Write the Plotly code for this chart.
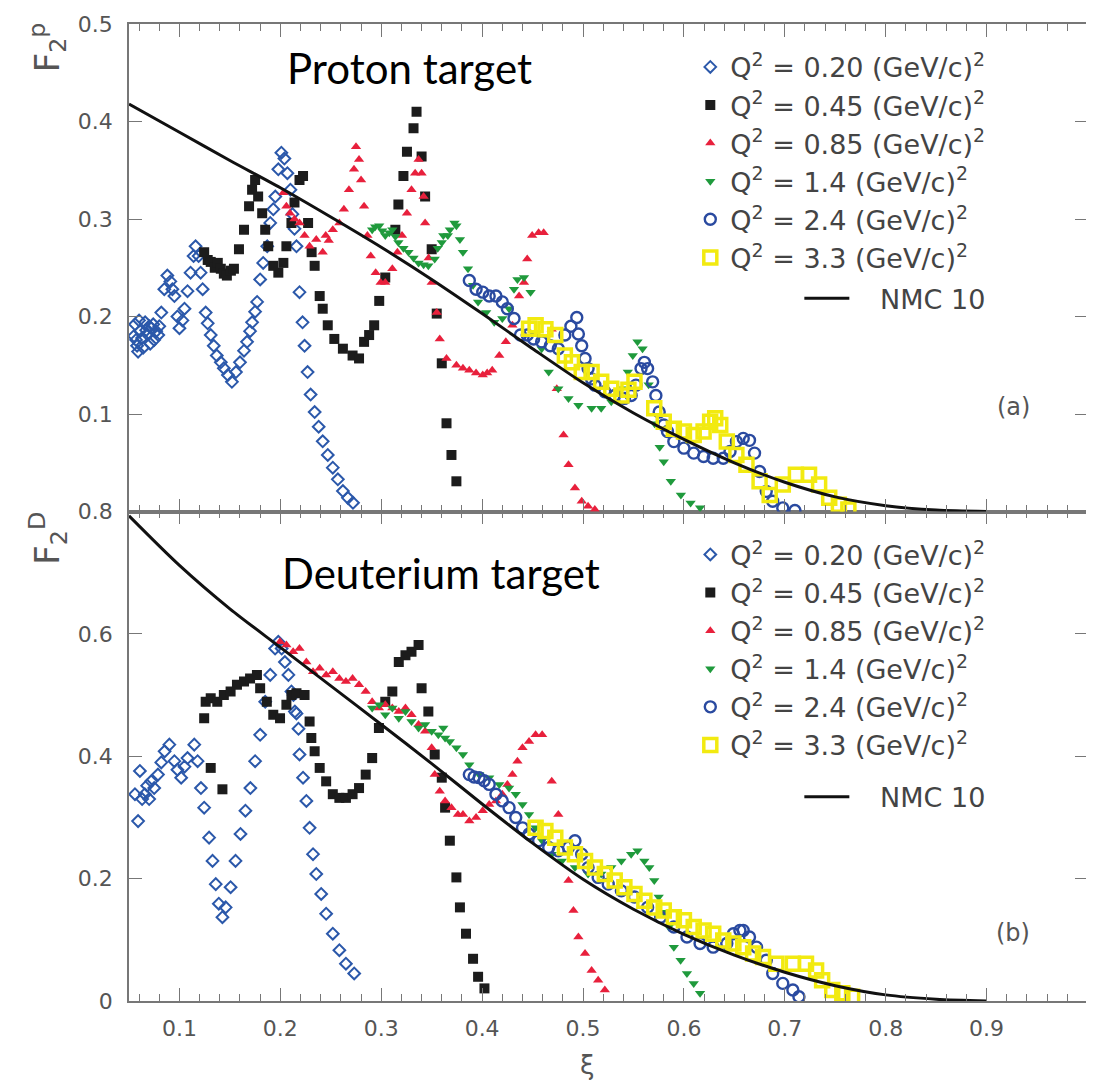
import plotly.graph_objects as go

# ---------------- data (xi, F2) ----------------
SERIES_NAMES = ["Q<sup>2</sup> = 0.20 (GeV/c)<sup>2</sup>",
                "Q<sup>2</sup> = 0.45 (GeV/c)<sup>2</sup>",
                "Q<sup>2</sup> = 0.85 (GeV/c)<sup>2</sup>",
                "Q<sup>2</sup> = 1.4 (GeV/c)<sup>2</sup>",
                "Q<sup>2</sup> = 2.4 (GeV/c)<sup>2</sup>",
                "Q<sup>2</sup> = 3.3 (GeV/c)<sup>2</sup>"]
CURVE_NAME = "\u00a0\u00a0\u00a0NMC 10"

# Proton target
P_Q020 = [(0.055,0.180),(0.056,0.192),(0.057,0.176),(0.058,0.170),(0.059,0.164),(0.060,0.196),(0.061,0.185),
          (0.063,0.178),(0.064,0.168),(0.066,0.194),(0.067,0.186),(0.068,0.182),(0.070,0.190),(0.071,0.172),
          (0.072,0.188),(0.074,0.192),(0.075,0.176),(0.077,0.185),(0.079,0.181),(0.080,0.190),(0.082,0.204),
          (0.085,0.228),(0.088,0.242),(0.091,0.236),(0.093,0.228),(0.095,0.221),(0.098,0.200),(0.100,0.188),
          (0.103,0.196),(0.105,0.208),(0.108,0.226),(0.111,0.245),(0.114,0.262),(0.116,0.272),(0.119,0.262),
          (0.121,0.245),(0.123,0.228),(0.126,0.204),(0.128,0.193),(0.131,0.181),(0.134,0.170),(0.137,0.160),
          (0.141,0.153),(0.144,0.147),(0.148,0.140),(0.152,0.133),(0.156,0.143),(0.160,0.153),(0.164,0.165),
          (0.167,0.174),(0.170,0.185),(0.172,0.194),(0.175,0.205),(0.177,0.215),(0.180,0.238),(0.183,0.255),
          (0.187,0.272),(0.190,0.296),(0.193,0.310),(0.195,0.323),(0.198,0.351),(0.201,0.368),(0.204,0.362),
          (0.207,0.347),(0.210,0.330),(0.212,0.305),(0.214,0.290),(0.216,0.272),(0.219,0.225),(0.222,0.194),
          (0.224,0.170),(0.227,0.143),(0.230,0.120),(0.234,0.102),(0.238,0.087),(0.242,0.072),(0.247,0.058),
          (0.252,0.045),(0.257,0.033),(0.262,0.021),(0.267,0.014),(0.272,0.009)]
P_Q045 = [(0.1245,0.266),(0.128,0.258),(0.131,0.256),(0.135,0.250),(0.138,0.255),(0.141,0.249),(0.144,0.244),
          (0.147,0.242),(0.151,0.247),(0.154,0.249),(0.159,0.269),(0.164,0.289),(0.169,0.313),(0.172,0.330),
          (0.175,0.340),(0.178,0.323),(0.182,0.306),(0.185,0.289),(0.188,0.272),(0.193,0.252),(0.198,0.245),
          (0.203,0.255),(0.206,0.272),(0.211,0.296),(0.214,0.317),(0.219,0.340),(0.2225,0.344),(0.2275,0.296),
          (0.231,0.266),(0.234,0.252),(0.239,0.221),(0.242,0.208),(0.247,0.191),(0.2535,0.177),(0.262,0.167),
          (0.2716,0.160),(0.278,0.157),(0.283,0.174),(0.288,0.181),(0.293,0.191),(0.298,0.216),(0.304,0.240),
          (0.314,0.289),(0.317,0.315),(0.322,0.344),(0.3255,0.369),(0.332,0.393),(0.335,0.410),(0.340,0.364),
          (0.3435,0.323),(0.350,0.269),(0.355,0.203),(0.360,0.152),(0.3647,0.0905),(0.3696,0.058),(0.3745,0.031)]
P_Q085 = [(0.203,0.327),(0.206,0.313),(0.2095,0.306),(0.214,0.300),(0.219,0.296),(0.224,0.283),(0.229,0.272),
          (0.2356,0.279),(0.242,0.266),(0.245,0.283),(0.248,0.278),(0.252,0.289),(0.2585,0.296),(0.263,0.310),
          (0.268,0.330),(0.273,0.351),(0.275,0.374),(0.278,0.361),(0.280,0.340),(0.283,0.313),(0.2863,0.283),
          (0.2896,0.262),(0.2945,0.245),(0.2994,0.235),(0.304,0.235),(0.311,0.249),(0.316,0.266),(0.3206,0.283),
          (0.3255,0.306),(0.330,0.330),(0.3336,0.347),(0.337,0.361),(0.340,0.347),(0.342,0.323),(0.3435,0.296),
          (0.347,0.260),(0.350,0.235),(0.355,0.204),(0.358,0.177),(0.3647,0.157),(0.3745,0.150),(0.381,0.147),
          (0.3873,0.145),(0.394,0.142),(0.4006,0.140),(0.405,0.142),(0.410,0.145),(0.417,0.160),(0.4235,0.174),
          (0.430,0.191),(0.4366,0.221),(0.4415,0.235),(0.4447,0.259),(0.4496,0.283),(0.456,0.286),(0.461,0.286),
          (0.469,0.187),(0.474,0.126),(0.4807,0.0786),(0.4856,0.048),(0.492,0.024),(0.4987,0.0105),(0.505,0.0054),
          (0.5117,0.002)]
P_Q140 = [(0.291,0.289),(0.294,0.292),(0.298,0.293),(0.301,0.288),(0.304,0.283),(0.308,0.286),(0.311,0.289),
          (0.314,0.282),(0.317,0.276),(0.322,0.270),(0.327,0.266),(0.332,0.260),(0.337,0.255),(0.342,0.253),
          (0.3467,0.252),(0.353,0.259),(0.356,0.270),(0.360,0.276),(0.3615,0.283),(0.366,0.283),(0.368,0.289),
          (0.3726,0.296),(0.3745,0.293),(0.378,0.279),(0.381,0.266),(0.386,0.249),(0.391,0.232),(0.396,0.215),
          (0.404,0.204),(0.412,0.194),(0.420,0.198),(0.4267,0.208),(0.4316,0.228),(0.435,0.238),(0.4415,0.240),
          (0.448,0.225),(0.459,0.167),(0.466,0.143),(0.4755,0.126),(0.4856,0.116),(0.4954,0.109),(0.5085,0.106),
          (0.518,0.106),(0.528,0.1126),(0.538,0.126),(0.5444,0.143),(0.5493,0.160),(0.554,0.174),(0.559,0.167),
          (0.565,0.130),(0.571,0.090),(0.576,0.066),(0.580,0.051),(0.587,0.031),(0.597,0.017),(0.6066,0.0088),
          (0.616,0.0038)]
P_Q240 = [(0.3873,0.237),(0.394,0.228),(0.4006,0.225),(0.407,0.221),(0.4137,0.221),(0.420,0.215),(0.425,0.208),
          (0.4316,0.198),(0.438,0.181),(0.4447,0.181),(0.451,0.177),(0.459,0.174),(0.4676,0.170),(0.4755,0.167),
          (0.482,0.181),(0.488,0.190),(0.4938,0.199),(0.4954,0.182),(0.4987,0.170),(0.502,0.157),(0.505,0.1466),
          (0.5085,0.136),(0.5118,0.1296),(0.5216,0.1228),(0.5314,0.119),(0.541,0.116),(0.5477,0.119),
          (0.5525,0.1296),(0.5575,0.1466),(0.5608,0.153),(0.564,0.1466),(0.569,0.133),(0.5722,0.119),
          (0.5755,0.102),(0.580,0.0888),(0.5837,0.082),(0.590,0.0717),(0.600,0.065),(0.6097,0.0599),
          (0.6195,0.0564),(0.629,0.0547),(0.639,0.0547),(0.6457,0.0616),(0.652,0.0717),(0.6588,0.075),
          (0.665,0.073),(0.670,0.0599),(0.675,0.041),(0.6816,0.0207),(0.688,0.0105),(0.698,0.0037),(0.710,0.001)]
P_Q330 = [(0.4465,0.1874),(0.453,0.191),(0.4627,0.187),(0.4725,0.181),(0.482,0.160),(0.489,0.153),(0.4987,0.143),
          (0.5085,0.143),(0.518,0.133),(0.528,0.126),(0.538,0.119),(0.545,0.125),(0.551,0.133),(0.5706,0.106),
          (0.580,0.092),(0.590,0.085),(0.600,0.082),(0.6097,0.0786),(0.6195,0.082),(0.626,0.092),(0.631,0.0956),
          (0.636,0.0888),(0.6425,0.0717),(0.652,0.058),(0.662,0.048),(0.675,0.031),(0.685,0.017),(0.698,0.0276),
          (0.711,0.0378),(0.724,0.0378),(0.734,0.0276),(0.744,0.014),(0.7536,0.007),(0.763,0.002)]
P_NMC_X = [0.05, 0.10, 0.15, 0.20, 0.25, 0.30, 0.35, 0.40, 0.45, 0.50, 0.55, 0.60, 0.65, 0.70, 0.75, 0.80, 0.85, 0.90]
P_NMC_Y = [0.418, 0.389, 0.360, 0.332, 0.302, 0.271, 0.238, 0.203, 0.167, 0.132, 0.101, 0.074, 0.050, 0.030,
           0.015, 0.006, 0.0015, 0.000]

# Deuterium target
D_Q020 = [(0.0559,0.338),(0.059,0.294),(0.0608,0.376),(0.063,0.330),(0.0657,0.338),(0.068,0.352),(0.070,0.330),
          (0.072,0.359),(0.075,0.348),(0.0787,0.370),(0.082,0.390),(0.0853,0.408),(0.090,0.419),(0.095,0.392),
          (0.098,0.378),(0.1017,0.365),(0.105,0.383),(0.108,0.397),(0.1147,0.419),(0.118,0.392),(0.1213,0.348),
          (0.1245,0.316),(0.1294,0.267),(0.1328,0.229),(0.136,0.191),(0.139,0.159),(0.1426,0.137),(0.1458,0.153),
          (0.1507,0.186),(0.1556,0.229),(0.1605,0.273),(0.1654,0.311),(0.1703,0.348),(0.175,0.392),(0.180,0.435),
          (0.185,0.489),(0.190,0.533),(0.1948,0.576),(0.198,0.587),(0.2013,0.576),(0.2045,0.554),(0.208,0.533),
          (0.211,0.506),(0.213,0.500),(0.2144,0.473),(0.216,0.470),(0.218,0.445),(0.219,0.403),(0.2225,0.365),
          (0.2258,0.327),(0.229,0.283),(0.2324,0.240),(0.2356,0.2076),(0.2405,0.175),(0.2454,0.1426),(0.252,0.110),
          (0.2585,0.083),(0.265,0.061),(0.2732,0.045)]
D_Q045 = [(0.1245,0.462),(0.126,0.489),(0.131,0.495),(0.131,0.381),(0.1375,0.489),(0.1426,0.346),(0.144,0.500),
          (0.1507,0.506),(0.157,0.517),(0.164,0.522),(0.170,0.527),(0.1768,0.533),(0.180,0.511),(0.1866,0.489),
          (0.193,0.468),(0.1997,0.462),(0.206,0.484),(0.211,0.500),(0.216,0.503),(0.224,0.500),(0.229,0.457),
          (0.2307,0.430),(0.234,0.408),(0.239,0.381),(0.2454,0.359),(0.252,0.338),(0.2585,0.332),(0.265,0.332),
          (0.2716,0.338),(0.278,0.348),(0.2846,0.370),(0.291,0.397),(0.2977,0.446),(0.304,0.489),(0.311,0.506),
          (0.3174,0.554),(0.324,0.565),(0.330,0.571),(0.337,0.582),(0.340,0.511),(0.3467,0.473),(0.353,0.403),
          (0.360,0.365),(0.3633,0.316),(0.368,0.262),(0.3745,0.202),(0.378,0.153),(0.384,0.110),(0.391,0.069),
          (0.396,0.0396),(0.4023,0.0206)]
D_Q085 = [(0.1997,0.587),(0.206,0.582),(0.2127,0.571),(0.219,0.576),(0.2258,0.554),(0.2324,0.538),(0.239,0.544),
          (0.2454,0.533),(0.252,0.538),(0.2585,0.527),(0.265,0.522),(0.2716,0.527),(0.278,0.517),(0.2846,0.506),
          (0.291,0.489),(0.2977,0.479),(0.304,0.484),(0.311,0.479),(0.3174,0.473),(0.324,0.479),(0.330,0.468),
          (0.337,0.452),(0.3435,0.441),(0.350,0.414),(0.353,0.370),(0.358,0.343),(0.3633,0.327),(0.3696,0.316),
          (0.376,0.305),(0.381,0.305),(0.3873,0.294),(0.394,0.300),(0.4006,0.311),(0.407,0.321),(0.4137,0.327),
          (0.420,0.338),(0.425,0.354),(0.430,0.370),(0.435,0.392),(0.440,0.414),(0.4465,0.424),(0.453,0.435),
          (0.4595,0.435),(0.469,0.359),(0.4755,0.305),(0.4856,0.197),(0.4905,0.148),(0.4954,0.1045),(0.502,0.0776),
          (0.5085,0.050),(0.515,0.034),(0.5216,0.018)]
D_Q140 = [(0.291,0.479),(0.298,0.484),(0.304,0.468),(0.311,0.479),(0.3174,0.462),(0.324,0.473),(0.330,0.457),
          (0.337,0.446),(0.3435,0.452),(0.350,0.441),(0.3566,0.435),(0.3615,0.446),(0.3633,0.430),(0.368,0.424),
          (0.3745,0.414),(0.381,0.403),(0.3873,0.386),(0.397,0.370),(0.407,0.365),(0.417,0.354),(0.4267,0.348),
          (0.4333,0.338),(0.440,0.321),(0.4465,0.305),(0.453,0.283),(0.4595,0.262),(0.469,0.240),(0.479,0.229),
          (0.492,0.218),(0.505,0.2076),(0.518,0.2076),(0.528,0.218),(0.538,0.229),(0.5477,0.240),(0.554,0.2455),
          (0.5608,0.229),(0.5657,0.218),(0.5706,0.197),(0.575,0.170),(0.580,0.145),(0.585,0.121),(0.590,0.088),
          (0.5967,0.0667),(0.603,0.045),(0.6097,0.0288),(0.616,0.0125)]
D_Q240 = [(0.3873,0.370),(0.392,0.366),(0.397,0.365),(0.402,0.360),(0.407,0.354),(0.4137,0.338),(0.420,0.327),
          (0.4267,0.316),(0.4333,0.300),(0.440,0.283),(0.4465,0.273),(0.456,0.262),(0.466,0.251),(0.4755,0.2455),
          (0.4856,0.251),(0.492,0.262),(0.4987,0.240),(0.505,0.218),(0.515,0.202),(0.525,0.191),(0.538,0.180),
          (0.551,0.170),(0.564,0.153),(0.577,0.137),(0.590,0.121),(0.603,0.1045),(0.616,0.094),(0.629,0.088),
          (0.6425,0.094),(0.649,0.110),(0.6555,0.1154),(0.6588,0.1154),(0.665,0.1045),(0.672,0.088),
          (0.6816,0.0667),(0.688,0.045),(0.698,0.0288),(0.708,0.0179),(0.714,0.007)]
D_Q330 = [(0.453,0.283),(0.4627,0.278),(0.4725,0.267),(0.482,0.251),(0.492,0.240),(0.502,0.229),(0.5118,0.218),
          (0.5216,0.2076),(0.5314,0.197),(0.541,0.186),(0.551,0.175),(0.5608,0.164),(0.5706,0.153),(0.580,0.148),
          (0.590,0.137),(0.600,0.132),(0.6097,0.121),(0.6195,0.1154),(0.629,0.110),(0.639,0.099),(0.649,0.094),
          (0.6588,0.088),(0.6686,0.0776),(0.6784,0.072),(0.6916,0.061),(0.708,0.061),(0.721,0.061),(0.731,0.050),
          (0.737,0.034),(0.747,0.018),(0.757,0.0125),(0.7667,0.007)]
D_NMC_X = [0.05, 0.10, 0.15, 0.20, 0.25, 0.30, 0.35, 0.40, 0.45, 0.50, 0.55, 0.60, 0.65, 0.70, 0.75, 0.80, 0.85, 0.90]
D_NMC_Y = [0.793, 0.712, 0.641, 0.578, 0.515, 0.452, 0.388, 0.322, 0.258, 0.199, 0.150, 0.109, 0.075, 0.047,
           0.025, 0.010, 0.003, 0.000]

X_TICKS = [0.1, 0.2, 0.3, 0.4, 0.5, 0.6, 0.7, 0.8, 0.9, 1.0]
X_TICK_TEXT = ["0.1", "0.2", "0.3", "0.4", "0.5", "0.6", "0.7", "0.8", "0.9", "1"]
P_Y_TICKS = [0.1, 0.2, 0.3, 0.4, 0.5]
P_Y_TEXT = ["0.1", "0.2", "0.3", "0.4", "0.5"]
D_Y_TICKS = [0, 0.2, 0.4, 0.6, 0.8]
D_Y_TEXT = ["0", "0.2", "0.4", "0.6", "0.8"]

# ---------------- styles ----------------
STYLES = [
    dict(symbol="diamond-open", size=9, color="#2b58aa", line=dict(width=2, color="#2b58aa")),
    dict(symbol="square", size=10, color="#1c1c1c", line=dict(width=0)),
    dict(symbol="triangle-up", size=9, color="#e8203c", line=dict(width=0)),
    dict(symbol="triangle-down", size=9, color="#1f9a3c", line=dict(width=0)),
    dict(symbol="circle-open", size=11, color="#2a4aa0", line=dict(width=2.4, color="#2a4aa0")),
    dict(symbol="square-open", size=13, color="#f2ea10", line=dict(width=3.5, color="#f2ea10")),
]
GREY = "#555555"
AXC = "#777777"
FONT = "DejaVu Sans"

fig = go.Figure()

panels = [
    ("x2", "y2", [P_Q020, P_Q045, P_Q085, P_Q140, P_Q240, P_Q330], P_NMC_X, P_NMC_Y, "legend", "legend3"),
    ("x", "y", [D_Q020, D_Q045, D_Q085, D_Q140, D_Q240, D_Q330], D_NMC_X, D_NMC_Y, "legend2", "legend4"),
]
for xa, ya, sets, cx, cy, leg, legc in panels:
    for name, pts, st in zip(SERIES_NAMES, sets, STYLES):
        fig.add_trace(go.Scatter(
            x=[p[0] for p in pts], y=[p[1] for p in pts], mode="markers", name=name,
            marker=st, xaxis=xa, yaxis=ya, legend=leg, cliponaxis=True))
    fig.add_trace(go.Scatter(
        x=cx, y=cy, mode="lines", name=CURVE_NAME,
        line=dict(color="#111111", width=3, shape="spline", smoothing=0.8),
        xaxis=xa, yaxis=ya, legend=legc))

axis_common = dict(showline=True, linecolor=AXC, linewidth=1.6, mirror="ticks", ticks="inside",
                   tickcolor=AXC, tickwidth=1.4, ticklen=13, showgrid=False, zeroline=False,
                   tickfont=dict(family=FONT, size=22, color=GREY))

xminor = dict(ticks="inside", ticklen=7, dtick=0.02, tick0=0, tickcolor=AXC, tickwidth=1.2, showgrid=False)

# the page adds an 8px body margin, so the figure is 8px smaller than the window
fig.update_layout(
    width=1086, height=1076,
    margin=dict(l=121, r=4, t=9, b=83),
    paper_bgcolor="white", plot_bgcolor="white",
    xaxis=dict(domain=[0, 1], range=[0.05, 1.0005], tickvals=X_TICKS, ticktext=X_TICK_TEXT, anchor="y",
               minor=xminor, ticklabelstandoff=7, **axis_common),
    yaxis=dict(domain=[0, 0.501], range=[0, 0.8], tickvals=D_Y_TICKS, ticktext=D_Y_TEXT, anchor="x",
               ticklabelstandoff=10, **axis_common),
    xaxis2=dict(domain=[0, 1], range=[0.05, 1.0005], tickvals=X_TICKS, showticklabels=False, anchor="y2",
                minor=xminor, **axis_common),
    yaxis2=dict(domain=[0.501, 1], range=[0, 0.5], tickvals=P_Y_TICKS, ticktext=P_Y_TEXT, anchor="x2",
                ticklabelstandoff=10, **axis_common),
    showlegend=True,
)

leg_common = dict(xanchor="left", yanchor="top", bgcolor="rgba(0,0,0,0)", borderwidth=0,
                  font=dict(family=FONT, size=27, color="#444444"), tracegroupgap=0, itemsizing="trace")
fig.update_layout(
    legend=dict(x=0.5853, y=0.9807, **leg_common),
    legend2=dict(x=0.5853, y=0.4817, **leg_common),
    legend3=dict(x=0.699, y=0.7439, itemwidth=45, **leg_common),
    legend4=dict(x=0.699, y=0.2337, itemwidth=45, **leg_common),
)

ann = [
    dict(text="Proton target", x=0.293, y=0.955, font=dict(family="Lato", size=42, color="black")),
    dict(text="Deuterium target", x=0.325, y=0.438, font=dict(family="Lato", size=42, color="black")),
    dict(text="(a)", x=0.922, y=0.6077, font=dict(family=FONT, size=24, color=GREY)),
    dict(text="(b)", x=0.922, y=0.0691, font=dict(family=FONT, size=24, color=GREY)),
    dict(text="\u03be", x=0.478, y=-0.066, font=dict(family=FONT, size=26, color=GREY)),
    dict(text="F<sub>2</sub><sup>p</sup>", x=-0.085, y=0.9766, textangle=-90,
         font=dict(family=FONT, size=34, color=GREY)),
    dict(text="F<sub>2</sub><sup>D</sup>", x=-0.085, y=0.4736, textangle=-90,
         font=dict(family=FONT, size=34, color=GREY)),
]
for a in ann:
    fig.add_annotation(xref="paper", yref="paper", showarrow=False, xanchor="center", yanchor="middle", **a)

fig.write_html("out.html")
